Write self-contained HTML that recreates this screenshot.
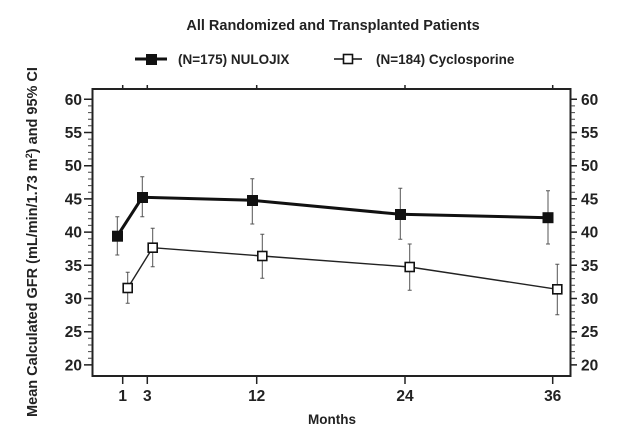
<!DOCTYPE html>
<html><head><meta charset="utf-8"><style>
html,body{margin:0;padding:0;background:#fff;}
svg{display:block;font-family:"Liberation Sans",Arial,sans-serif;font-weight:bold;}
</style></head><body>
<svg width="624" height="433" viewBox="0 0 624 433" xmlns="http://www.w3.org/2000/svg">
<rect width="624" height="433" fill="#fff"/>
<text x="333" y="30" font-size="14.5" text-anchor="middle" fill="#222">All Randomized and Transplanted Patients</text>
<line x1="135" y1="59" x2="167" y2="59" stroke="#111" stroke-width="3"/>
<rect x="146" y="54" width="11" height="11" fill="#111"/>
<text x="178" y="64" font-size="13.5" fill="#222">(N=175) NULOJIX</text>
<line x1="334" y1="59" x2="362" y2="59" stroke="#111" stroke-width="1.5"/>
<rect x="343.5" y="54.5" width="9" height="9" fill="#fff" stroke="#111" stroke-width="1.6"/>
<text x="376" y="64" font-size="13.5" fill="#222">(N=184) Cyclosporine</text>
<rect x="92.5" y="89" width="478" height="287" fill="none" stroke="#222" stroke-width="2"/>
<g stroke="#444" stroke-width="1">
<path id="mt" d="M88 99.3h4 M88 105.9h4 M88 112.6h4 M88 119.2h4 M88 125.8h4 M88 132.5h4 M88 139.1h4 M88 145.8h4 M88 152.4h4 M88 159h4 M88 165.7h4 M88 172.3h4 M88 179h4 M88 185.6h4 M88 192.2h4 M88 198.9h4 M88 205.5h4 M88 212.2h4 M88 218.8h4 M88 225.4h4 M88 232.1h4 M88 238.7h4 M88 245.4h4 M88 252h4 M88 258.6h4 M88 265.3h4 M88 271.9h4 M88 278.6h4 M88 285.2h4 M88 291.8h4 M88 298.5h4 M88 305.1h4 M88 311.8h4 M88 318.4h4 M88 325h4 M88 331.7h4 M88 338.3h4 M88 345h4 M88 351.6h4 M88 358.2h4 M88 364.9h4"/>
<use href="#mt" transform="translate(483,0)"/>
</g>
<g stroke="#222" stroke-width="1.5">
<path d="M84 99.3h8 M84 132.5h8 M84 165.7h8 M84 198.9h8 M84 232.1h8 M84 265.3h8 M84 298.5h8 M84 331.7h8 M84 364.9h8"/>
<path d="M571 99.3h6 M571 132.5h6 M571 165.7h6 M571 198.9h6 M571 232.1h6 M571 265.3h6 M571 298.5h6 M571 331.7h6 M571 364.9h6"/>
<path d="M122.7 376v8 M147.3 376v8 M256.7 376v8 M405 376v8 M552.7 376v8"/>
<path d="M122.7 89v-4 M147.3 89v-4 M256.7 89v-4 M405 89v-4 M552.7 89v-4"/>
</g>
<g font-size="15.5" fill="#222" text-anchor="end">
<text x="82" y="104.8">60</text><text x="82" y="138">55</text><text x="82" y="171.2">50</text><text x="82" y="204.4">45</text><text x="82" y="237.6">40</text><text x="82" y="270.8">35</text><text x="82" y="304">30</text><text x="82" y="337.2">25</text><text x="82" y="370.4">20</text>
</g>
<g font-size="15.5" fill="#222">
<text x="581" y="104.8">60</text><text x="581" y="138">55</text><text x="581" y="171.2">50</text><text x="581" y="204.4">45</text><text x="581" y="237.6">40</text><text x="581" y="270.8">35</text><text x="581" y="304">30</text><text x="581" y="337.2">25</text><text x="581" y="370.4">20</text>
</g>
<g font-size="15.5" fill="#222" text-anchor="middle">
<text x="122.7" y="401">1</text><text x="147.3" y="401">3</text><text x="256.7" y="401">12</text><text x="405" y="401">24</text><text x="552.7" y="401">36</text>
</g>
<text x="332" y="424" font-size="13.5" fill="#222" text-anchor="middle">Months</text>
<text transform="translate(37,242) rotate(-90)" font-size="14.5" fill="#222" text-anchor="middle">Mean Calculated GFR (mL/min/1.73 m<tspan font-size="9" dy="-5">2</tspan><tspan dy="5">) and 95% CI</tspan></text>
<g stroke="#555" stroke-width="1">
<path d="M117.3 216.7V255 M115.3 216.7h4 M115.3 255h4"/>
<path d="M142.3 176.7V216.7 M140.3 176.7h4 M140.3 216.7h4"/>
<path d="M252.3 178.7V224 M250.3 178.7h4 M250.3 224h4"/>
<path d="M400.3 188.3V239.3 M398.3 188.3h4 M398.3 239.3h4"/>
<path d="M548 190.7V244 M546 190.7h4 M546 244h4"/>
<path d="M127.7 272.3V303.3 M125.7 272.3h4 M125.7 303.3h4"/>
<path d="M152.7 228.3V266.7 M150.7 228.3h4 M150.7 266.7h4"/>
<path d="M262.3 234.3V278.3 M260.3 234.3h4 M260.3 278.3h4"/>
<path d="M409.7 244V290.3 M407.7 244h4 M407.7 290.3h4"/>
<path d="M557.3 264.3V314.7 M555.3 264.3h4 M555.3 314.7h4"/>
</g>
<polyline points="117.3,236 142.3,197.3 252.3,200.3 400.3,214.3 548,217.7" fill="none" stroke="#111" stroke-width="3"/>
<polyline points="127.7,288 152.7,247.7 262.3,256 409.7,267 557.3,289.3" fill="none" stroke="#222" stroke-width="1.4"/>
<g fill="#111">
<rect x="112" y="230.7" width="11" height="11"/>
<rect x="137" y="192" width="11" height="11"/>
<rect x="247" y="195" width="11" height="11"/>
<rect x="395" y="209" width="11" height="11"/>
<rect x="542.5" y="212.2" width="11" height="11"/>
</g>
<g fill="#fff" stroke="#111" stroke-width="1.6">
<rect x="123.2" y="283.5" width="9" height="9"/>
<rect x="148.2" y="243.2" width="9" height="9"/>
<rect x="257.8" y="251.5" width="9" height="9"/>
<rect x="405.2" y="262.5" width="9" height="9"/>
<rect x="552.8" y="284.8" width="9" height="9"/>
</g>
</svg>
</body></html>
